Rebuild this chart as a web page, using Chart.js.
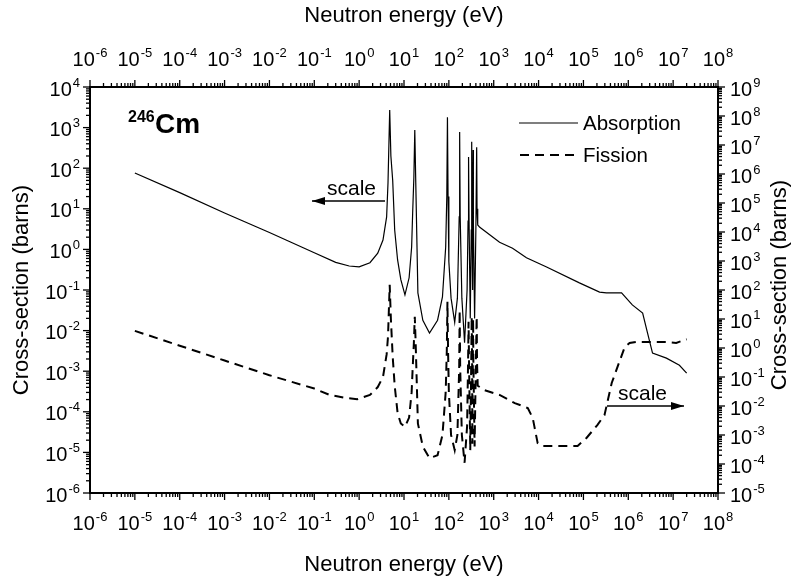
<!DOCTYPE html>
<html>
<head>
<meta charset="utf-8">
<script src="https://cdn.jsdelivr.net/npm/chart.js@4.4.1/dist/chart.umd.min.js"></script>
<style>
  html, body { margin: 0; padding: 0; background: #fff; }
  canvas { display: block; }
</style>
</head>
<body>
<canvas id="chart" width="796" height="582"></canvas>
<script>
// 246Cm cross-sections
// absorption -> left axis, fission -> right axis

const absEnergy = [1e-5, 1e-4, 1e-3, 1e-2, 0.1, 0.3, 0.6, 1.0, 1.74, 2.6, 3.4, 4.1, 4.4, 4.8, 5.1, 5.6, 6.2, 7.2, 8.5, 10.5,
  13, 14.8, 15.6, 16.6, 17.4, 18.2, 20.4, 26.3, 37, 56, 72, 85, 90, 93, 96, 100, 112, 135, 155, 170, 174, 179, 195, 224,
  255, 268, 275, 282, 300, 316, 323, 330, 335, 342, 347, 352, 375, 400, 417, 425, 440, 490, 1350, 2630, 5370, 15100,
  81300, 229000, 324000, 708000, 1.23e6, 2.09e6, 2.69e6, 3.47e6, 7.08e6, 1.38e7, 2.0e7];
const absSigma = [76, 25, 7.9, 2.6, 0.83, 0.48, 0.39, 0.37, 0.47, 0.81, 1.7, 6.3, 44, 2700, 200, 50, 3.0, 0.55, 0.18, 0.076,
  0.2, 1.15, 8, 60, 870, 60, 0.085, 0.018, 0.0087, 0.018, 0.068, 1.15, 20, 1800, 20, 0.5, 0.063, 0.016, 0.063, 6.3, 780, 6.3, 0.063, 0.005,
  0.1, 5, 190, 5, 0.02, 3, 450, 3, 0.1, 5, 280, 5, 0.02, 3, 330, 10, 4, 3.5, 1.5, 1.07, 0.62, 0.37,
  0.15, 0.089, 0.085, 0.085, 0.043, 0.027, 0.0087, 0.0028, 0.0021, 0.0014, 0.0009];

const fisEnergy = [1e-5, 1e-4, 1e-3, 1e-2, 0.1, 0.22, 0.5, 0.9, 1.74, 2.6, 3.4, 4.1, 4.4, 4.8, 5.1, 5.6, 6.2, 7.2, 8.5, 10.5,
  13, 14.8, 15.6, 16.6, 17.4, 18.2, 20.4, 26.3, 37, 56, 72, 85, 90, 93, 96, 100, 112, 135, 155, 170, 174, 179, 195, 224,
  255, 268, 275, 282, 300, 316, 323, 330, 335, 342, 347, 352, 375, 400, 417, 425, 440, 630, 1350, 2950, 5750, 7400, 8100,
  9550, 11700, 74100, 117000, 204000, 295000, 427000, 631000, 832000, 1.07e6, 1.51e6, 7.08e6, 1.17e7, 2.0e7];
const fisSigma = [3.9, 1.2, 0.37, 0.115, 0.04, 0.024, 0.019, 0.017, 0.024, 0.045, 0.1, 0.6, 2.5, 150, 10, 0.5, 0.05, 0.0057, 0.0025, 0.0019,
  0.004, 0.03, 0.2, 1.5, 12, 1.5, 0.0025, 0.0004, 0.00016, 0.0002, 0.001, 0.03, 0.8, 39, 0.8, 0.03, 0.001, 0.0003, 0.001, 0.2, 20, 0.2, 0.001, 0.00011,
  0.002, 0.3, 8, 0.3, 0.0003, 0.4, 12, 0.4, 0.0005, 0.3, 10, 0.3, 0.0004, 0.3, 12, 0.3, 0.05, 0.035, 0.024, 0.0126, 0.0085, 0.0039, 0.0019,
  0.00052, 0.00042, 0.00042, 0.00079, 0.0022, 0.0049, 0.062, 0.33, 1.07, 1.48, 1.62, 1.6, 1.5, 2.0];

// tick decades (powers of ten)
const xDecades = [-6, -5, -4, -3, -2, -1, 0, 1, 2, 3, 4, 5, 6, 7, 8];
const yLeftDecades = [-6, -5, -4, -3, -2, -1, 0, 1, 2, 3, 4];
const yRightDecades = [-5, -4, -3, -2, -1, 0, 1, 2, 3, 4, 5, 6, 7, 8, 9];

const FONT = "'Liberation Sans', Arial, Helvetica, sans-serif";

function toPoints(xs, ys) {
  return xs.map((x, i) => ({ x: x, y: ys[i] }));
}

function logAxis(position, decades, size, title, titlePad) {
  return {
    type: 'logarithmic',
    position: position,
    min: Math.pow(10, decades[0]),
    max: Math.pow(10, decades[decades.length - 1]),
    afterBuildTicks: (s) => { s.ticks = decades.map(d => ({ value: Math.pow(10, d) })); },
    afterFit: (s) => {
      if (position === 'top' || position === 'bottom') s.height = size; else s.width = size;
    },
    grid: { display: false, drawTicks: false },
    border: { display: false },
    ticks: { display: false, autoSkip: false },
    title: {
      display: !!title,
      text: title || '',
      color: '#000',
      font: { family: FONT, size: 22 },
      padding: titlePad,
    },
  };
}

// "10" with a raised exponent
function powLabel(ctx, exp, x, y, align) {
  const e = String(exp);
  ctx.font = '20px ' + FONT;
  const w10 = ctx.measureText('10').width;
  ctx.font = '13px ' + FONT;
  const we = ctx.measureText(e).width;
  const total = w10 + 1 + we;
  let x0 = x - total / 2;
  if (align === 'right') x0 = x - total;
  if (align === 'left') x0 = x;
  ctx.textAlign = 'left';
  ctx.textBaseline = 'middle';
  ctx.font = '20px ' + FONT;
  ctx.fillText('10', x0, y);
  ctx.font = '13px ' + FONT;
  ctx.fillText(e, x0 + w10 + 1, y - 7);
}

// frame, ticks, tick labels, legend and notes
const decorPlugin = {
  id: 'decor',
  afterDraw(chart) {
    const { ctx, chartArea: a, scales } = chart;
    ctx.save();
    ctx.strokeStyle = '#000';
    ctx.fillStyle = '#000';
    ctx.lineWidth = 2;
    ctx.strokeRect(a.left, a.top, a.right - a.left, a.bottom - a.top);

    ctx.lineWidth = 1.3;
    const drawTicks = (scale, decades, side) => {
      for (let i = 0; i < decades.length; i++) {
        for (let m = 1; m <= 9; m++) {
          if (i === decades.length - 1 && m > 1) break;
          const p = scale.getPixelForValue(m * Math.pow(10, decades[i]));
          const len = m === 1 ? 7 : 4;
          ctx.beginPath();
          if (side === 'bottom') { ctx.moveTo(p, a.bottom); ctx.lineTo(p, a.bottom + len); }
          if (side === 'top') { ctx.moveTo(p, a.top); ctx.lineTo(p, a.top - len); }
          if (side === 'left') { ctx.moveTo(a.left, p); ctx.lineTo(a.left - len, p); }
          if (side === 'right') { ctx.moveTo(a.right, p); ctx.lineTo(a.right + len, p); }
          ctx.stroke();
        }
        const p0 = scale.getPixelForValue(Math.pow(10, decades[i]));
        if (side === 'bottom') powLabel(ctx, decades[i], p0, a.bottom + 31, 'center');
        if (side === 'top') powLabel(ctx, decades[i], p0, a.top - 27, 'center');
        if (side === 'left') powLabel(ctx, decades[i], a.left - 10, p0 + 3, 'right');
        if (side === 'right') powLabel(ctx, decades[i], a.right + 12, p0 + 3, 'left');
      }
    };
    drawTicks(scales.x, xDecades, 'bottom');
    drawTicks(scales.x2, xDecades, 'top');
    drawTicks(scales.y, yLeftDecades, 'left');
    drawTicks(scales.y2, yRightDecades, 'right');

    // right axis title reads bottom to top, like the left one
    ctx.save();
    ctx.translate(780, (a.top + a.bottom) / 2 - 5);
    ctx.rotate(-Math.PI / 2);
    ctx.font = '22px ' + FONT;
    ctx.textAlign = 'center';
    ctx.textBaseline = 'middle';
    ctx.fillText('Cross-section (barns)', 0, 0);
    ctx.restore();

    // 246Cm label
    ctx.textBaseline = 'alphabetic';
    ctx.textAlign = 'left';
    ctx.font = 'bold 16px ' + FONT;
    ctx.fillText('246', 128, 122);
    ctx.font = 'bold 28px ' + FONT;
    ctx.fillText('Cm', 155, 133);

    // legend
    ctx.font = '20.5px ' + FONT;
    ctx.fillText('Absorption', 583, 130);
    ctx.fillText('Fission', 583, 162);
    ctx.lineWidth = 1.2;
    ctx.beginPath(); ctx.moveTo(519, 123); ctx.lineTo(578, 123); ctx.stroke();
    ctx.lineWidth = 2;
    ctx.setLineDash([9, 6]);
    ctx.beginPath(); ctx.moveTo(520, 155); ctx.lineTo(578, 155); ctx.stroke();
    ctx.setLineDash([]);

    // "scale" arrows
    ctx.font = '21px ' + FONT;
    ctx.fillText('scale', 327, 195);
    ctx.fillText('scale', 618, 400);
    ctx.lineWidth = 1.5;
    const arrow = (x1, x2, y) => {
      ctx.beginPath(); ctx.moveTo(x1, y); ctx.lineTo(x2, y); ctx.stroke();
      const dir = x2 > x1 ? 1 : -1;
      ctx.beginPath();
      ctx.moveTo(x2, y);
      ctx.lineTo(x2 - dir * 13, y - 4);
      ctx.lineTo(x2 - dir * 13, y + 4);
      ctx.closePath();
      ctx.fill();
    };
    arrow(385, 312, 201);
    arrow(607, 684, 406);
    ctx.restore();
  }
};

new Chart(document.getElementById('chart'), {
  type: 'line',
  data: {
    datasets: [
      {
        label: 'Absorption',
        data: toPoints(absEnergy, absSigma),
        xAxisID: 'x',
        yAxisID: 'y',
        borderColor: '#000',
        borderWidth: 1.2,
        pointRadius: 0,
        tension: 0,
      },
      {
        label: 'Fission',
        data: toPoints(fisEnergy, fisSigma),
        xAxisID: 'x',
        yAxisID: 'y2',
        borderColor: '#000',
        borderWidth: 2,
        borderDash: [9, 6],
        pointRadius: 0,
        tension: 0,
      },
    ]
  },
  options: {
    responsive: false,
    animation: false,
    layout: { padding: 0 },
    plugins: { legend: { display: false }, tooltip: { enabled: false } },
    scales: {
      x: logAxis('bottom', xDecades, 89, 'Neutron energy (eV)', { top: 0, bottom: 4 }),
      x2: logAxis('top', xDecades, 87, 'Neutron energy (eV)', { top: 3, bottom: 0 }),
      y: logAxis('left', yLeftDecades, 90, 'Cross-section (barns)', { top: 9, bottom: 0 }),
      y2: logAxis('right', yRightDecades, 78, '', 0),
    }
  },
  plugins: [decorPlugin]
});
</script>
</body>
</html>
